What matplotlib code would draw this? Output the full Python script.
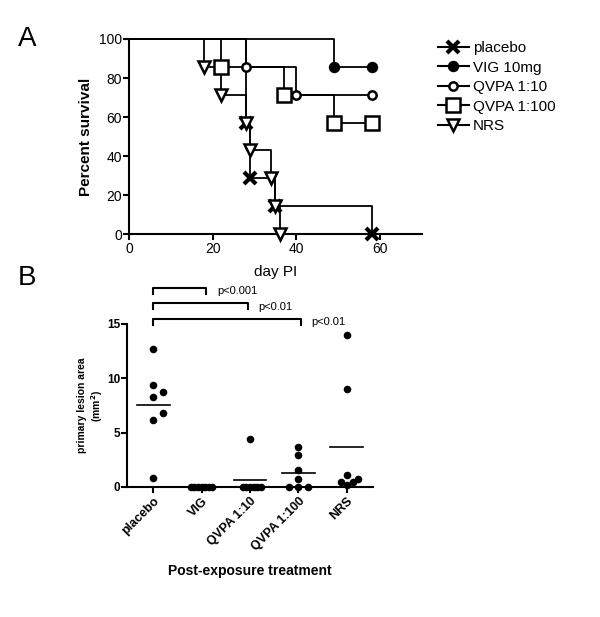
# survival curves (A) and lesion area scatter (B)

import numpy as np
import matplotlib
matplotlib.use('Agg')
import matplotlib.pyplot as plt
from matplotlib.lines import Line2D

plt.rcParams['font.family'] = ['Liberation Sans', 'DejaVu Sans']

# ---- panel A data: Kaplan-Meier steps (day, percent survival)
groups_a = ['placebo', 'VIG 10mg', 'QVPA 1:10', 'QVPA 1:100', 'NRS']
days_placebo = [0, 28, 29, 35, 58]
surv_placebo = [100, 57.1, 28.6, 14.3, 0]
days_vig = [0, 49, 58]
surv_vig = [100, 85.7, 85.7]
days_q10 = [0, 28, 40, 58]
surv_q10 = [100, 85.7, 71.4, 71.4]
days_q100 = [0, 22, 37, 49, 58]
surv_q100 = [100, 85.7, 71.4, 57.1, 57.1]
days_nrs = [0, 18, 22, 28, 29, 34, 35, 36]
surv_nrs = [100, 85.7, 71.4, 57.1, 42.9, 28.6, 14.3, 0]

# ---- panel B data: primary lesion area (mm^2)
groups_b = ['placebo', 'VIG', 'QVPA 1:10', 'QVPA 1:100', 'NRS']
lesion_placebo = [12.7, 9.4, 8.3, 8.7, 6.2, 6.8, 0.8]
lesion_vig = [0, 0, 0, 0, 0, 0, 0]
lesion_q10 = [4.4, 0, 0, 0, 0, 0, 0]
lesion_q100 = [3.7, 2.9, 1.6, 0.7, 0, 0, 0]
lesion_nrs = [14.0, 9.0, 0.2, 0.5, 0.5, 0.7, 1.1]
comparisons = [(0, 1, 'p<0.001'), (0, 2, 'p<0.01'), (0, 3, 'p<0.01')]

fig = plt.figure(figsize=(6, 6.17), dpi=100)

# ================= panel A
axA = fig.add_axes([0.215, 0.6207, 0.488, 0.3161])
styles = [
    dict(marker='x', ms=8, mew=3, mfc='black', mec='black'),
    dict(marker='o', ms=7, mew=1.2, mfc='black', mec='black'),
    dict(marker='o', ms=6, mew=1.8, mfc='white', mec='black'),
    dict(marker='s', ms=9.5, mew=1.8, mfc='white', mec='black'),
    dict(marker='v', ms=8.5, mew=1.8, mfc='white', mec='black'),
]
curves = [(days_placebo, surv_placebo), (days_vig, surv_vig),
          (days_q10, surv_q10), (days_q100, surv_q100), (days_nrs, surv_nrs)]

for d, s in curves:
    axA.step(d, s, where='post', color='black', lw=1.3, clip_on=False, zorder=2)
for (d, s), st in zip(curves, styles):
    axA.plot(d[1:], s[1:], ls='none', clip_on=False, zorder=3, **st)

axA.set_xlim(0, 70)
axA.set_ylim(0, 100)
axA.set_xticks([0, 20, 40, 60])
axA.set_yticks([0, 20, 40, 60, 80, 100])
for side in ['top', 'right']:
    axA.spines[side].set_visible(False)
for side in ['left', 'bottom']:
    axA.spines[side].set_linewidth(1.5)
axA.tick_params(direction='out', length=4, width=1.5, labelsize=10, pad=1)
axA.tick_params(axis='x', pad=2)
axA.set_xlabel('day PI', fontsize=11, labelpad=6)
axA.set_ylabel('Percent survival', fontsize=11, fontweight='bold', labelpad=4)

handles = [Line2D([], [], color='black', lw=1.5, **st) for st in styles]
fig.legend(handles, groups_a, loc='upper left', bbox_to_anchor=(0.73, 0.933),
           frameon=False, fontsize=11, handlelength=2.0, handletextpad=0.3,
           labelspacing=0.36, borderpad=0, borderaxespad=0)

fig.text(0.045, 1 - 39 / 617, 'A', fontsize=20, ha='center', va='center')
fig.text(0.045, 1 - 278 / 617, 'B', fontsize=20, ha='center', va='center')

# ================= panel B
def swarm_offsets(vals, thr=0.65):
    placed = []
    slots = []
    for v in vals:
        for c in [0, 1, -1, 2, -2, 3, -3, 4, -4]:
            if all(not (abs(pv - v) < thr and pc == c) for pv, pc in placed):
                break
        placed.append((v, c))
        slots.append(c)
    m = max(abs(c) for c in slots)
    step = 0.2 if m <= 1 else (0.12 if m <= 2 else 0.075)
    return np.array(slots) * step

axB = fig.add_axes([0.2117, 0.2107, 0.41, 0.2642])
lesions = [lesion_placebo, lesion_vig, lesion_q10, lesion_q100, lesion_nrs]
for i, vals in enumerate(lesions):
    xs = i + swarm_offsets(vals)
    axB.scatter(xs, vals, s=30, color='black', clip_on=False, zorder=3, lw=0)
    m = np.mean(vals)
    axB.plot([i - 0.34, i + 0.34], [m, m], color='black', lw=1.2, clip_on=False)

axB.set_xlim(-0.54, 4.54)
axB.set_ylim(0, 15)
axB.set_yticks([0, 5, 10, 15])
axB.set_xticks(range(len(groups_b)))
axB.set_xticklabels(groups_b, rotation=45, ha='right', rotation_mode='anchor',
                    fontsize=9, fontweight='bold')
for lab in axB.get_yticklabels():
    lab.set_fontweight('bold')
for side in ['top', 'right']:
    axB.spines[side].set_visible(False)
for side in ['left', 'bottom']:
    axB.spines[side].set_linewidth(1.5)
axB.tick_params(direction='out', length=4, width=1.5, pad=2)
axB.tick_params(axis='y', labelsize=8.5, pad=1)
axB.set_ylabel('primary lesion area\n(mm$^\\mathbf{2}$)', fontsize=7.5,
               fontweight='bold', labelpad=1)
axB.set_xlabel('Post-exposure treatment', fontsize=10, fontweight='bold',
               labelpad=8)

# significance brackets
bracket_y = [18.3, 16.9, 15.5]
bracket_end = [1.1, 1.95, 3.05]
for (a, b, txt), y, xe in zip(comparisons, bracket_y, bracket_end):
    axB.plot([a, a, xe, xe], [y - 0.55, y, y, y - 0.55], color='black',
             lw=1.5, clip_on=False)
    axB.text(xe + 0.22, y - 0.3, txt, fontsize=8, va='center', ha='left',
             clip_on=False)

fig.savefig('out.png', dpi=100)
